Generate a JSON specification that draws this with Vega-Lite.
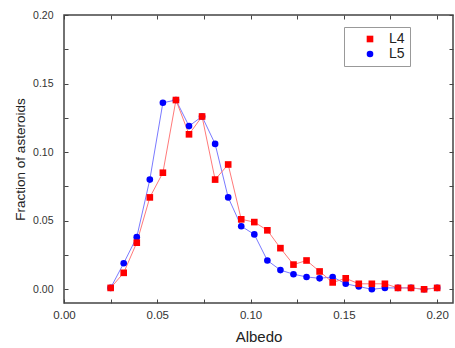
{
  "$schema": "https://vega.github.io/schema/vega-lite/v6.json",
  "width": 389,
  "height": 288,
  "autosize": "none",
  "padding": {"left": 64, "top": 15, "right": 2, "bottom": 45},
  "background": "white",
  "config": {
    "view": {"stroke": "#444", "strokeWidth": 1.5},
    "font": "Liberation Sans",
    "axis": {"grid": false, "domain": false, "tickColor": "#444", "tickWidth": 1, "tickSize": 4, "offset": -4, "labelColor": "#333", "titleColor": "#222", "titleFontWeight": "normal", "labelFont": "Liberation Sans", "titleFont": "Liberation Sans", "labelFlush": false}
  },
  "data": {
    "values": [
      {"series": "L5", "albedo": 0.025, "fraction": 0.001},
      {"series": "L5", "albedo": 0.032, "fraction": 0.019},
      {"series": "L5", "albedo": 0.039, "fraction": 0.038},
      {"series": "L5", "albedo": 0.046, "fraction": 0.080},
      {"series": "L5", "albedo": 0.053, "fraction": 0.136},
      {"series": "L5", "albedo": 0.060, "fraction": 0.138},
      {"series": "L5", "albedo": 0.067, "fraction": 0.119},
      {"series": "L5", "albedo": 0.074, "fraction": 0.126},
      {"series": "L5", "albedo": 0.081, "fraction": 0.106},
      {"series": "L5", "albedo": 0.088, "fraction": 0.067},
      {"series": "L5", "albedo": 0.095, "fraction": 0.046},
      {"series": "L5", "albedo": 0.102, "fraction": 0.040},
      {"series": "L5", "albedo": 0.109, "fraction": 0.021},
      {"series": "L5", "albedo": 0.116, "fraction": 0.014},
      {"series": "L5", "albedo": 0.123, "fraction": 0.011},
      {"series": "L5", "albedo": 0.130, "fraction": 0.009},
      {"series": "L5", "albedo": 0.137, "fraction": 0.008},
      {"series": "L5", "albedo": 0.144, "fraction": 0.009},
      {"series": "L5", "albedo": 0.151, "fraction": 0.004},
      {"series": "L5", "albedo": 0.158, "fraction": 0.002},
      {"series": "L5", "albedo": 0.165, "fraction": 0.000},
      {"series": "L5", "albedo": 0.172, "fraction": 0.001},
      {"series": "L5", "albedo": 0.179, "fraction": 0.001},
      {"series": "L5", "albedo": 0.186, "fraction": 0.001},
      {"series": "L5", "albedo": 0.193, "fraction": 0.000},
      {"series": "L5", "albedo": 0.200, "fraction": 0.001},
      {"series": "L4", "albedo": 0.025, "fraction": 0.001},
      {"series": "L4", "albedo": 0.032, "fraction": 0.012},
      {"series": "L4", "albedo": 0.039, "fraction": 0.034},
      {"series": "L4", "albedo": 0.046, "fraction": 0.067},
      {"series": "L4", "albedo": 0.053, "fraction": 0.085},
      {"series": "L4", "albedo": 0.060, "fraction": 0.138},
      {"series": "L4", "albedo": 0.067, "fraction": 0.113},
      {"series": "L4", "albedo": 0.074, "fraction": 0.126},
      {"series": "L4", "albedo": 0.081, "fraction": 0.080},
      {"series": "L4", "albedo": 0.088, "fraction": 0.091},
      {"series": "L4", "albedo": 0.095, "fraction": 0.051},
      {"series": "L4", "albedo": 0.102, "fraction": 0.049},
      {"series": "L4", "albedo": 0.109, "fraction": 0.043},
      {"series": "L4", "albedo": 0.116, "fraction": 0.030},
      {"series": "L4", "albedo": 0.123, "fraction": 0.018},
      {"series": "L4", "albedo": 0.130, "fraction": 0.021},
      {"series": "L4", "albedo": 0.137, "fraction": 0.013},
      {"series": "L4", "albedo": 0.144, "fraction": 0.005},
      {"series": "L4", "albedo": 0.151, "fraction": 0.008},
      {"series": "L4", "albedo": 0.158, "fraction": 0.004},
      {"series": "L4", "albedo": 0.165, "fraction": 0.004},
      {"series": "L4", "albedo": 0.172, "fraction": 0.004},
      {"series": "L4", "albedo": 0.179, "fraction": 0.001},
      {"series": "L4", "albedo": 0.186, "fraction": 0.001},
      {"series": "L4", "albedo": 0.193, "fraction": 0.000},
      {"series": "L4", "albedo": 0.200, "fraction": 0.001}
    ]
  },
  "layer": [
    {
      "transform": [{"filter": "datum.series == 'L5'"}],
      "mark": {"type": "line", "strokeWidth": 1, "color": "#7a7aff"},
      "encoding": {
        "x": {"field": "albedo", "type": "quantitative", "scale": {"domain": [0, 0.2085], "nice": false, "zero": false},
          "axis": {"orient": "bottom", "title": "Albedo", "titleFontSize": 15, "titlePadding": 9, "labelFontSize": 11.5, "labelPadding": 6,
            "values": [0, 0.025, 0.05, 0.075, 0.1, 0.125, 0.15, 0.175, 0.2],
            "labelExpr": "round(datum.value*1000) % 50 == 0 ? format(datum.value, '.2f') : ''"}},
        "y": {"field": "fraction", "type": "quantitative", "scale": {"domain": [-0.01, 0.2], "nice": false, "zero": false},
          "axis": {"orient": "left", "title": "Fraction of asteroids", "titleFontSize": 13.5, "titlePadding": 5, "labelFontSize": 10.5, "labelPadding": 11,
            "values": [0, 0.025, 0.05, 0.075, 0.1, 0.125, 0.15, 0.175, 0.2],
            "labelExpr": "round(datum.value*1000) % 50 == 0 ? format(datum.value, '.2f') : ''"}}
      }
    },
    {
      "transform": [{"filter": "datum.series == 'L4'"}],
      "mark": {"type": "line", "strokeWidth": 1, "color": "#ff7a7a"},
      "encoding": {
        "x": {"field": "albedo", "type": "quantitative", "axis": null},
        "y": {"field": "fraction", "type": "quantitative", "axis": null}
      }
    },
    {
      "mark": {"type": "point", "filled": true, "opacity": 1, "size": 44},
      "encoding": {
        "x": {"field": "albedo", "type": "quantitative",
          "axis": {"orient": "top", "title": null, "labels": false, "values": [0, 0.025, 0.05, 0.075, 0.1, 0.125, 0.15, 0.175, 0.2]}},
        "y": {"field": "fraction", "type": "quantitative",
          "axis": {"orient": "right", "title": null, "labels": false, "values": [0, 0.025, 0.05, 0.075, 0.1, 0.125, 0.15, 0.175, 0.2]}},
        "color": {"field": "series", "type": "nominal", "scale": {"domain": ["L4", "L5"], "range": ["#ff0000", "#0000ff"]},
          "legend": {"orient": "none", "legendX": 280, "legendY": 12, "title": null, "strokeColor": "#999", "fillColor": "white", "padding": 5, "labelFontSize": 14, "labelColor": "#222", "symbolSize": 44, "symbolOffset": 14, "labelOffset": 12, "rowPadding": 1}},
        "shape": {"field": "series", "type": "nominal", "scale": {"domain": ["L4", "L5"], "range": ["square", "circle"]},
          "legend": {"orient": "none", "legendX": 280, "legendY": 12, "title": null, "strokeColor": "#999", "fillColor": "white", "padding": 5, "labelFontSize": 14, "labelColor": "#222", "symbolSize": 44, "symbolOffset": 14, "labelOffset": 12, "rowPadding": 1}}
      }
    }
  ],
  "resolve": {"axis": {"x": "independent", "y": "independent"}}
}
